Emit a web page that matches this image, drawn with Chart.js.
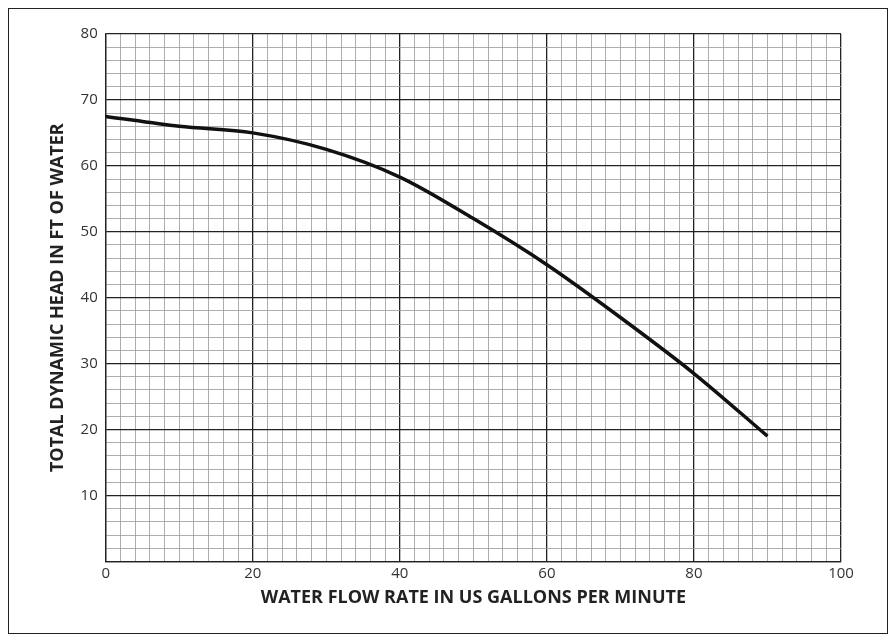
<!DOCTYPE html>
<html><head><meta charset="utf-8">
<script src="https://cdn.jsdelivr.net/npm/chart.js@4"></script>
<style>
body{margin:0;background:#fff}
#wrap{position:absolute;left:0;top:0;width:896px;height:641px}
#frame{position:absolute;left:8px;top:8px;width:878px;height:624px;border:1.5px solid #222;pointer-events:none}
</style></head><body>
<div id="wrap"><canvas id="c" width="896" height="641"></canvas><div id="frame"></div></div>
<script>
const flowGpm = [0, 10, 20, 30, 40, 50, 60, 70, 80, 90];
const headFt = [67.5, 66, 65, 62.5, 58.3, 52, 45, 37, 28.5, 19];

const font = { family: "Open Sans, Liberation Sans, sans-serif" };
new Chart(document.getElementById("c"), {
  type: "line",
  data: {
    datasets: [{
      data: flowGpm.map((x, i) => ({ x: x, y: headFt[i] })),
      borderColor: "#111",
      borderWidth: 3.5,
      pointRadius: 0,
      cubicInterpolationMode: "monotone",
      fill: false,
    }],
  },
  options: {
    responsive: false,
    animation: false,
    layout: { padding: { left: 43, right: 55, top: 34, bottom: 28 } },
    plugins: { legend: { display: false }, tooltip: { enabled: false } },
    scales: {
      x: {
        type: "linear", min: 0, max: 100,
        ticks: {
          stepSize: 2, autoSkip: false, maxRotation: 0, color: "#333",
          font: { ...font, size: 15 },
          callback: (v) => (v % 20 === 0 ? String(v) : ""),
        },
        grid: {
          color: (c) => (c.tick.value % 20 === 0 ? "#222" : "#999"),
          lineWidth: (c) => (c.tick.value % 20 === 0 ? 1.3 : 0.8),
          drawTicks: false,
        },
        border: { color: "#222", width: 1.3 },
        title: { display: true, text: "WATER FLOW RATE IN US GALLONS PER MINUTE", color: "#222",
          font: { ...font, size: 18, weight: "bold" }, padding: { top: 2 } },
      },
      y: {
        type: "linear", min: 0, max: 80,
        ticks: {
          stepSize: 2, autoSkip: false, color: "#333", padding: 8,
          font: { ...font, size: 15 },
          callback: (v) => (v % 10 === 0 && v !== 0 ? String(v) : ""),
        },
        grid: {
          color: (c) => (c.tick.value % 10 === 0 ? "#222" : "#999"),
          lineWidth: (c) => (c.tick.value % 10 === 0 ? 1.3 : 0.8),
          drawTicks: false,
        },
        border: { color: "#222", width: 1.3 },
        title: { display: true, text: "TOTAL DYNAMIC HEAD IN FT OF WATER", color: "#222",
          font: { ...font, size: 18, weight: "bold" } },
      },
    },
  },
});
</script>
</body></html>
